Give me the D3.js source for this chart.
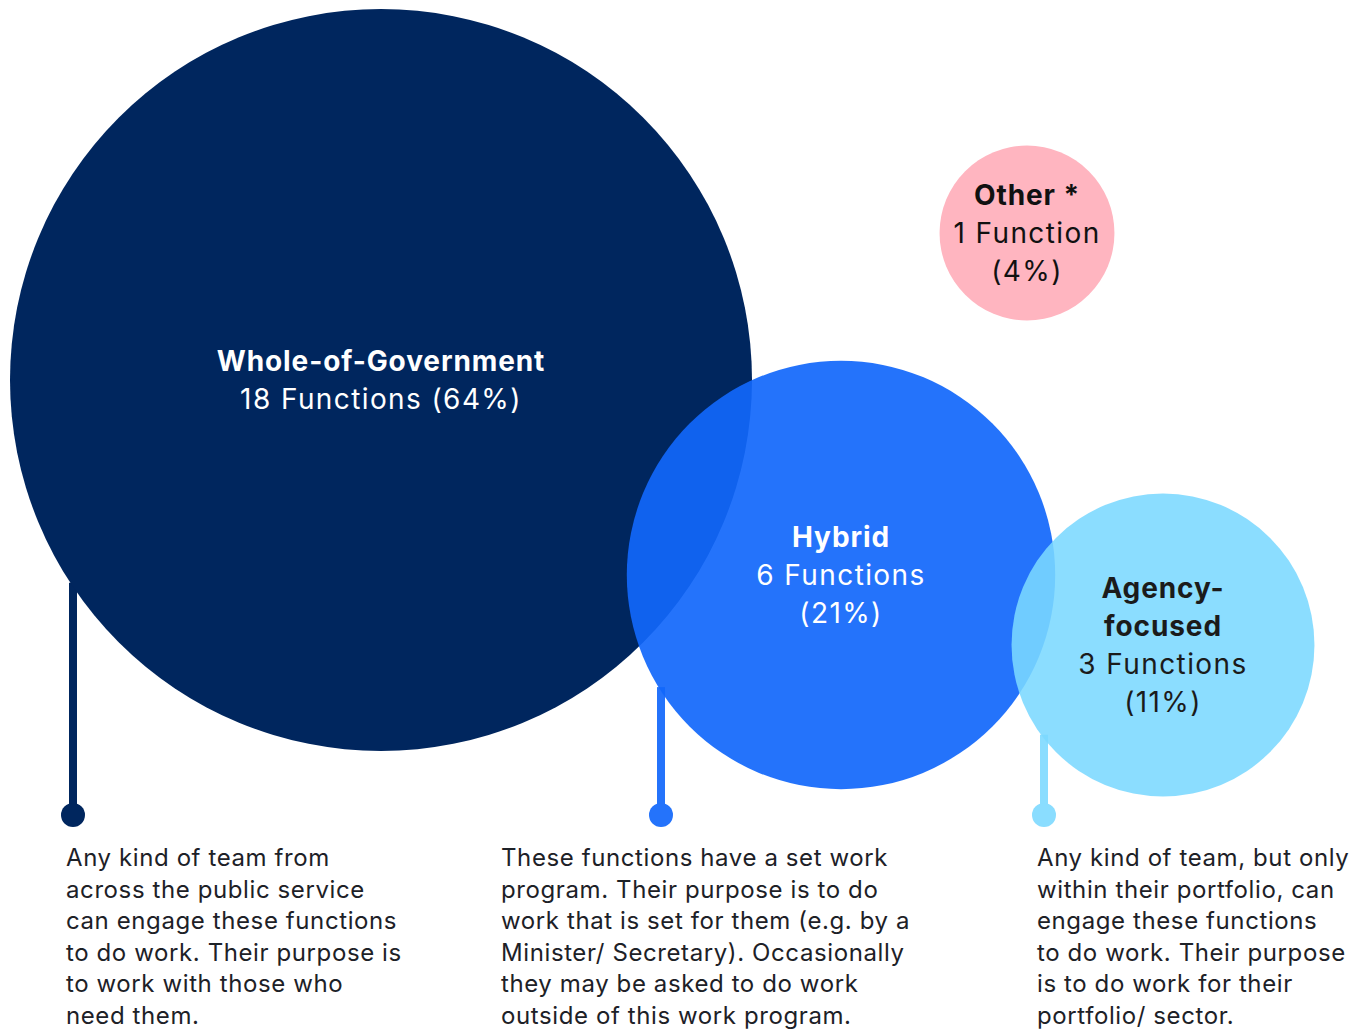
<!DOCTYPE html>
<html>
<head>
<meta charset="utf-8">
<script src="https://cdn.jsdelivr.net/npm/d3@7"></script>
<style>
  html, body { margin: 0; padding: 0; background: #fff; }
  svg { display: block; font-family: "Inter", "Roboto", sans-serif; }
</style>
</head>
<body>
<svg id="chart" width="1369" height="1032"></svg>
<script>
// Function groups and how many functions fall in each
const categories = ["Whole-of-Government", "Hybrid", "Agency-focused", "Other *"];
const titleLines = [["Whole-of-Government"], ["Hybrid"], ["Agency-", "focused"], ["Other *"]];
const counts = [18, 6, 3, 1];
const percents = [64, 21, 11, 4];
const descriptions = [
  ["Any kind of team from", "across the public service", "can engage these functions",
   "to do work. Their purpose is", "to work with those who", "need them."],
  ["These functions have a set work", "program. Their purpose is to do",
   "work that is set for them (e.g. by a", "Minister/ Secretary). Occasionally",
   "they may be asked to do work", "outside of this work program."],
  ["Any kind of team, but only", "within their portfolio, can", "engage these functions",
   "to do work. Their purpose", "is to do work for their", "portfolio/ sector."],
  null
];

// Placement of each bubble and its callout on the page
const layout = [
  { cx: 381, cy: 380, stemX: 73, textX: 66, fill: "#00265E", opacity: 1, ink: "#ffffff" },
  { cx: 841, cy: 575, stemX: 661, textX: 501, fill: "#1167FB", opacity: 0.92, ink: "#ffffff" },
  { cx: 1163, cy: 645, stemX: 1044, textX: 1037, fill: "#7BD8FF", opacity: 0.88, ink: "#1b1b1b" },
  { cx: 1027, cy: 233, stemX: null, textX: null, fill: "#FFB5C0", opacity: 1, ink: "#111111" }
];
const stemColors = ["#00265E", "#2473FB", "#8ADDFF"];

const svg = d3.select("#chart");

// Bubble area is proportional to the number of functions
const r = d3.scaleSqrt().domain([0, d3.max(counts)]).range([0, 371]);

const data = categories.map((c, i) => ({
  name: c, title: titleLines[i], count: counts[i], pct: percents[i],
  desc: descriptions[i], ...layout[i], stemColor: stemColors[i]
}));

const dotY = 815;

// Stems start at the bubble's lower edge and end in a dot
const stems = svg.append("g").selectAll("g")
  .data(data.filter(d => d.desc))
  .join("g");
stems.append("line")
  .attr("x1", d => d.stemX).attr("x2", d => d.stemX)
  .attr("y1", d => {
    const rr = r(d.count), dx = d.stemX - d.cx;
    return d.cy + Math.sqrt(Math.max(0, rr * rr - dx * dx)) - 4;
  })
  .attr("y2", dotY)
  .attr("stroke", d => d.stemColor).attr("stroke-width", 8);
stems.append("circle")
  .attr("cx", d => d.stemX).attr("cy", dotY).attr("r", 12)
  .attr("fill", d => d.stemColor);

// Bubbles, large to small so the overlaps show through
svg.append("g").selectAll("circle")
  .data(data)
  .join("circle")
  .attr("cx", d => d.cx).attr("cy", d => d.cy)
  .attr("r", d => r(d.count))
  .attr("fill", d => d.fill)
  .attr("fill-opacity", d => d.opacity);

// Bubble labels: bold title lines, then count and share
const lineH = 38;
const labels = svg.append("g").selectAll("text")
  .data(data)
  .join("text")
  .attr("text-anchor", "middle")
  .attr("font-size", 28)
  .attr("fill", d => d.ink);
labels.each(function (d) {
  const sel = d3.select(this);
  const countText = `${d.count} Function${d.count === 1 ? "" : "s"}`;
  const pctText = `(${d.pct}%)`;
  let lines;
  if (d.name === "Whole-of-Government") {
    lines = [{ t: d.title[0], b: true }, { t: `${countText} ${pctText}`, b: false }];
  } else {
    lines = d.title.map(t => ({ t, b: true }))
      .concat([{ t: countText, b: false }, { t: pctText, b: false }]);
  }
  const y0 = d.cy - (lines.length - 1) * lineH / 2;
  lines.forEach((ln, k) => {
    sel.append("tspan")
      .attr("x", d.cx)
      .attr("y", y0 + k * lineH)
      .attr("dy", "0.35em")
      .attr("font-weight", ln.b ? 700 : 400)
      .attr("letter-spacing", ln.b ? 0.9 : 1.4)
      .text(ln.t);
  });
});

// Description text under each stem
const descLineH = 31.5;
svg.append("g").selectAll("text")
  .data(data.filter(d => d.desc))
  .join("text")
  .attr("font-size", 24)
  .attr("letter-spacing", 0.6)
  .attr("fill", "#1d2127")
  .each(function (d) {
    const sel = d3.select(this);
    d.desc.forEach((t, k) => {
      sel.append("tspan")
        .attr("x", d.textX)
        .attr("y", 858 + k * descLineH)
        .attr("dy", "0.35em")
        .text(t);
    });
  });
</script>
</body>
</html>
